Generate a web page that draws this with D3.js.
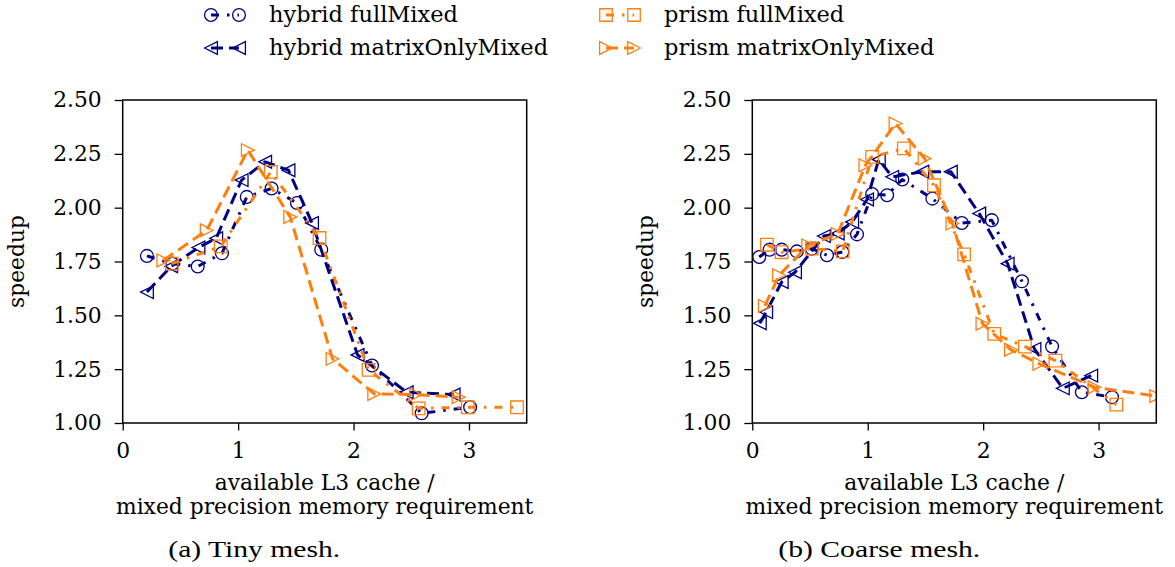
<!DOCTYPE html>
<html><head><meta charset="utf-8">
<script src="https://cdn.jsdelivr.net/npm/d3@7"></script>
<style>body{margin:0;background:#fff}svg{display:block}</style>
</head><body>
<svg id="c" width="1175" height="567"></svg>
<script>
// ---------- data ----------
const xTicks = [0, 1, 2, 3];
const yTicks = [1.00, 1.25, 1.50, 1.75, 2.00, 2.25, 2.50];
const seriesNames = ["hybrid fullMixed", "hybrid matrixOnlyMixed", "prism fullMixed", "prism matrixOnlyMixed"];
const panelCaptions = ["(a) Tiny mesh.", "(b) Coarse mesh."];
const xLabelLines = ["available L3 cache /", "mixed precision memory requirement"];
const yLabel = "speedup";

// (a) Tiny mesh
const tinyHybridFullX   = [0.21, 0.43, 0.65, 0.86, 1.075, 1.29, 1.51, 1.72, 2.16, 2.59, 3.01];
const tinyHybridFullY   = [1.776, 1.74, 1.727, 1.788, 2.05, 2.089, 2.022, 1.805, 1.267, 1.045, 1.073];
const tinyHybridMatX    = [0.21, 0.42, 0.656, 0.81, 1.03, 1.234, 1.436, 1.64, 2.035, 2.46, 2.867];
const tinyHybridMatY    = [1.608, 1.728, 1.815, 1.858, 2.128, 2.213, 2.174, 1.929, 1.316, 1.143, 1.132];
const tinyPrismFullX    = [0.425, 0.85, 1.283, 1.705, 2.13, 2.564, 2.99, 3.416];
const tinyPrismFullY    = [1.74, 1.82, 2.166, 1.859, 1.247, 1.068, 1.073, 1.073];
const tinyPrismMatX     = [0.352, 0.728, 1.084, 1.451, 1.818, 2.179, 2.54, 2.91];
const tinyPrismMatY     = [1.755, 1.895, 2.267, 1.957, 1.298, 1.135, 1.132, 1.12];

// (b) Coarse mesh
const coarseHybridFullX = [0.06, 0.15, 0.255, 0.386, 0.516, 0.647, 0.78, 0.907, 1.038, 1.168, 1.299, 1.56, 1.815, 2.075, 2.336, 2.597, 2.855, 3.116];
const coarseHybridFullY = [1.771, 1.805, 1.805, 1.797, 1.81, 1.779, 1.794, 1.876, 2.063, 2.058, 2.131, 2.042, 1.929, 1.942, 1.658, 1.355, 1.143, 1.12];
const coarseHybridMatX  = [0.065, 0.12, 0.255, 0.37, 0.62, 0.74, 0.865, 0.994, 1.096, 1.212, 1.473, 1.72, 1.966, 2.212, 2.444, 2.69, 2.936];
const coarseHybridMatY  = [1.463, 1.515, 1.655, 1.70, 1.868, 1.88, 1.934, 2.038, 2.224, 2.143, 2.167, 2.167, 1.973, 1.74, 1.344, 1.161, 1.22];
const coarsePrismFullX  = [0.127, 0.254, 0.516, 0.783, 1.038, 1.313, 1.574, 1.835, 2.096, 2.362, 2.626, 3.154];
const coarsePrismFullY  = [1.828, 1.793, 1.81, 1.797, 2.236, 2.275, 2.104, 1.783, 1.414, 1.355, 1.29, 1.085];
const coarsePrismMatX   = [0.109, 0.232, 0.485, 0.74, 0.98, 1.241, 1.493, 1.734, 1.994, 2.241, 2.487, 2.965, 3.5];
const coarsePrismMatY   = [1.544, 1.686, 1.825, 1.878, 2.197, 2.391, 2.228, 1.926, 1.461, 1.34, 1.275, 1.166, 1.125];

// ---------- styles ----------
const NAVY = "#000080", ORANGE = "#ff7f0e";
const DASHED = "12,6", DASHDOT = "8,8,2.5,8";
const styles = [
  {color: NAVY,   dash: DASHDOT, marker: "circle"},
  {color: NAVY,   dash: DASHED,  marker: "left"},
  {color: ORANGE, dash: DASHDOT, marker: "square"},
  {color: ORANGE, dash: DASHED,  marker: "right"}
];
const FONT = "'DejaVu Serif', serif";
const CAPFONT = "'Liberation Serif', 'Times New Roman', serif";
const FS = 21.8;

const panels = [
  {left: 122.7, caption: panelCaptions[0], capX: 168.3, capW: 172,
   series: [[tinyHybridFullX, tinyHybridFullY], [tinyHybridMatX, tinyHybridMatY],
            [tinyPrismFullX, tinyPrismFullY], [tinyPrismMatX, tinyPrismMatY]]},
  {left: 752.3, caption: panelCaptions[1], capX: 778.3, capW: 202,
   series: [[coarseHybridFullX, coarseHybridFullY], [coarseHybridMatX, coarseHybridMatY],
            [coarsePrismFullX, coarsePrismFullY], [coarsePrismMatX, coarsePrismMatY]]}
];
const W = 404, TOP = 100, BOTTOM = 423;
const MS = 12.8; // marker size

function markerPath(type) {
  const h = MS / 2;
  if (type === "circle") { const r = h; return `M${r},0A${r},${r} 0 1,1 ${-r},0A${r},${r} 0 1,1 ${r},0Z`; }
  if (type === "square") { const s = h * 0.98; return `M${-s},${-s}H${s}V${s}H${-s}Z`; }
  if (type === "left")  return `M${-h},0L${h},${-h}L${h},${h}Z`;
  if (type === "right") return `M${h},0L${-h},${-h}L${-h},${h}Z`;
}

const svg = d3.select("#c");
svg.append("rect").attr("width", 1175).attr("height", 567).attr("fill", "#fff");

panels.forEach((p, pi) => {
  const x = d3.scaleLinear().domain([0, 3.5]).range([p.left, p.left + W]);
  const y = d3.scaleLinear().domain([1, 2.5]).range([BOTTOM, TOP]);
  const g = svg.append("g");
  const clipId = "clip" + pi;
  svg.append("clipPath").attr("id", clipId).append("rect")
    .attr("x", p.left).attr("y", TOP).attr("width", W).attr("height", BOTTOM - TOP);

  const plot = g.append("g").attr("clip-path", `url(#${clipId})`);
  const line = d3.line().x(d => x(d[0])).y(d => y(d[1]));
  p.series.forEach(([xs, ys], si) => {
    const pts = xs.map((v, i) => [v, ys[i]]);
    const st = styles[si];
    plot.append("path").datum(pts).attr("d", line)
      .attr("fill", "none").attr("stroke", st.color).attr("stroke-width", 3)
      .attr("stroke-dasharray", st.dash).attr("stroke-linejoin", "round");
    plot.selectAll(null).data(pts).enter().append("path")
      .attr("transform", d => `translate(${x(d[0])},${y(d[1])})`)
      .attr("d", markerPath(st.marker))
      .attr("fill", "none").attr("stroke", st.color).attr("stroke-width", 1.3);
  });

  // axes
  const ya = g.append("g").attr("transform", `translate(${p.left},0)`)
    .call(d3.axisLeft(y).tickValues(yTicks).tickFormat(d3.format(".2f")).tickSize(8).tickPadding(13));
  const xa = g.append("g").attr("transform", `translate(0,${BOTTOM})`)
    .call(d3.axisBottom(x).tickValues(xTicks).tickFormat(d3.format("d")).tickSize(7.5).tickPadding(12.2));
  [ya, xa].forEach(a => {
    a.select(".domain").remove();
    a.selectAll("line").attr("stroke", "#000").attr("stroke-width", 1.3);
    a.selectAll("text").attr("font-family", FONT).attr("font-size", FS).attr("fill", "#000");
  });
  g.append("rect").attr("x", p.left).attr("y", TOP).attr("width", W).attr("height", BOTTOM - TOP)
    .attr("fill", "none").attr("stroke", "#000").attr("stroke-width", 1.5);

  // labels
  g.append("text").attr("transform", `translate(${p.left - 99},${(TOP + BOTTOM) / 2}) rotate(-90)`)
    .attr("text-anchor", "middle").attr("font-family", FONT).attr("font-size", FS).text(yLabel);
  xLabelLines.forEach((t, i) => {
    g.append("text").attr("x", p.left + W / 2).attr("y", 490 + 24 * i)
      .attr("text-anchor", "middle").attr("font-family", FONT).attr("font-size", FS).text(t);
  });
  const cap = g.append("text").attr("x", 0).attr("y", 0)
    .attr("font-family", CAPFONT).attr("font-size", 24).text(p.caption);
  const natural = cap.node().getComputedTextLength();
  cap.attr("transform", `translate(${p.capX},557) scale(${p.capW / natural},1)`);
});

// legend
const LFS = 22.5;
const legendPos = [
  {m1: 211, m2: 239, tx: 269, cy: 15},
  {m1: 211, m2: 239, tx: 269, cy: 48},
  {m1: 606, m2: 634, tx: 664, cy: 15},
  {m1: 606, m2: 634, tx: 664, cy: 48}
];
seriesNames.forEach((name, i) => {
  const lp = legendPos[i], st = styles[i];
  const lg = svg.append("g");
  lg.append("line").attr("x1", lp.m1).attr("x2", lp.m2).attr("y1", lp.cy).attr("y2", lp.cy)
    .attr("stroke", st.color).attr("stroke-width", 3).attr("stroke-dasharray", st.dash);
  [lp.m1, lp.m2].forEach(mx => {
    lg.append("path").attr("transform", `translate(${mx},${lp.cy})`).attr("d", markerPath(st.marker))
      .attr("fill", "none").attr("stroke", st.color).attr("stroke-width", 1.3);
  });
  lg.append("text").attr("x", lp.tx).attr("y", lp.cy + 7)
    .attr("font-family", FONT).attr("font-size", LFS).text(name);
});
</script>
</body></html>
